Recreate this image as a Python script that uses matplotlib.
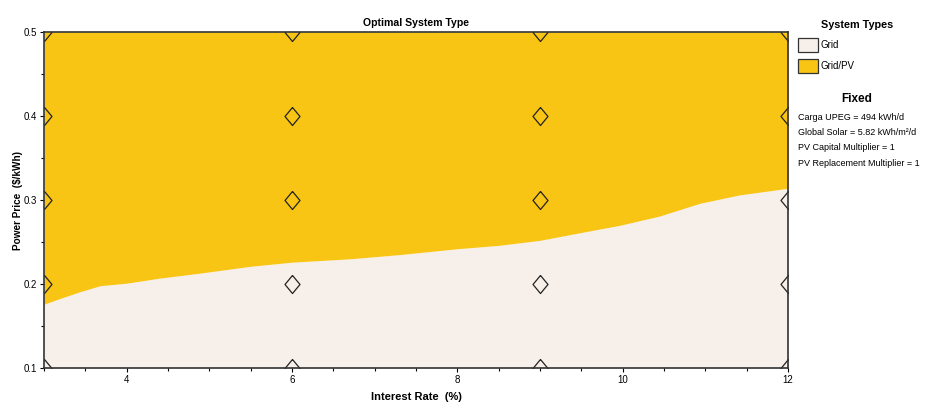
import matplotlib
matplotlib.use('Agg')
import matplotlib.pyplot as plt
from matplotlib.patches import Rectangle
from matplotlib.ticker import MultipleLocator

# Boundary between "Grid" (below) and "Grid/PV" (above)
interest_rate = [3.0, 3.2, 3.44, 3.68, 4.0, 4.4, 4.89, 5.49, 6.0, 6.7,
                 7.3, 8.0, 8.5, 9.0, 9.48, 9.97, 10.45, 10.93, 11.41, 12.0]
boundary_price = [0.176, 0.183, 0.191, 0.198, 0.201, 0.207, 0.213, 0.221, 0.226, 0.230,
                  0.235, 0.242, 0.246, 0.252, 0.261, 0.270, 0.281, 0.296, 0.306, 0.314]

# Sensitivity grid points (diamond markers)
grid_rates = [3, 6, 9, 12]
grid_prices = [0.1, 0.2, 0.3, 0.4, 0.5]

system_types = ['Grid', 'Grid/PV']
type_colors = ['#F7EFE9', '#F8C514']
fixed_lines = ['Carga UPEG = 494 kWh/d',
               'Global Solar = 5.82 kWh/m\u00b2/d',
               'PV Capital Multiplier = 1',
               'PV Replacement Multiplier = 1']

font = ['Liberation Sans', 'DejaVu Sans']

fig = plt.figure(figsize=(9.45, 4.09), dpi=100)
ax = fig.add_axes([0.0466, 0.1002, 0.7873, 0.8216])

x_min, x_max = 3, 12
y_min, y_max = 0.1, 0.5

ax.fill_between(interest_rate, y_min, boundary_price, color=type_colors[0], lw=0, zorder=1)
ax.fill_between(interest_rate, boundary_price, y_max, color=type_colors[1], lw=0, zorder=1)

diamond = [(0, 1), (0.83, 0), (0, -1), (-0.83, 0), (0, 1)]
for r in grid_rates:
    for p in grid_prices:
        ax.plot(r, p, marker=diamond, ms=13, mfc='none', mec='#222222', mew=0.9,
                ls='none', zorder=3, clip_on=True)

ax.set_xlim(x_min, x_max)
ax.set_ylim(y_min, y_max)
ax.xaxis.set_major_locator(MultipleLocator(2))
ax.xaxis.set_minor_locator(MultipleLocator(0.5))
ax.yaxis.set_major_locator(MultipleLocator(0.1))
ax.yaxis.set_minor_locator(MultipleLocator(0.05))
ax.set_xticks([4, 6, 8, 10, 12])
ax.tick_params(which='both', direction='out', length=3, width=0.8, labelsize=7, pad=2)
ax.tick_params(which='minor', length=2)
for lab in ax.get_xticklabels() + ax.get_yticklabels():
    lab.set_family(font)
for s in ax.spines.values():
    s.set_linewidth(1.2)
    s.set_color('#333333')
    s.set_zorder(4)

ax.set_title('Optimal System Type', fontsize=7.6, fontweight='bold', family=font, pad=4)
ax.set_xlabel('Interest Rate  (%)', fontsize=8, fontweight='bold', family=font)
ax.set_ylabel('Power Price  ($/kWh)', fontsize=7.2, fontweight='bold', family=font)
ax.xaxis.set_label_coords(0.5, -0.07)
ax.yaxis.set_label_coords(-0.0285, 0.5)

# Legend panel on the right
fig.text(857 / 945, 1 - 25 / 409, 'System Types', ha='center', va='center',
         fontsize=7.8, fontweight='bold', family=font)
for i, (name, col) in enumerate(zip(system_types, type_colors)):
    yc = 1 - (45 + i * 21) / 409
    fig.patches.append(Rectangle((798 / 945, yc - 7 / 409), 20 / 945, 14 / 409,
                                 transform=fig.transFigure, facecolor=col,
                                 edgecolor='#333333', lw=0.9))
    fig.text(821 / 945, yc, name, ha='left', va='center', fontsize=7, family=font)

fig.text(857 / 945, 1 - 99 / 409, 'Fixed', ha='center', va='center',
         fontsize=8.5, fontweight='bold', family=font)
for i, line in enumerate(fixed_lines):
    fig.text(798 / 945, 1 - (117 + i * 15.4) / 409, line, ha='left', va='center',
             fontsize=6.5, family=font)

fig.savefig('out.png', dpi=100)
